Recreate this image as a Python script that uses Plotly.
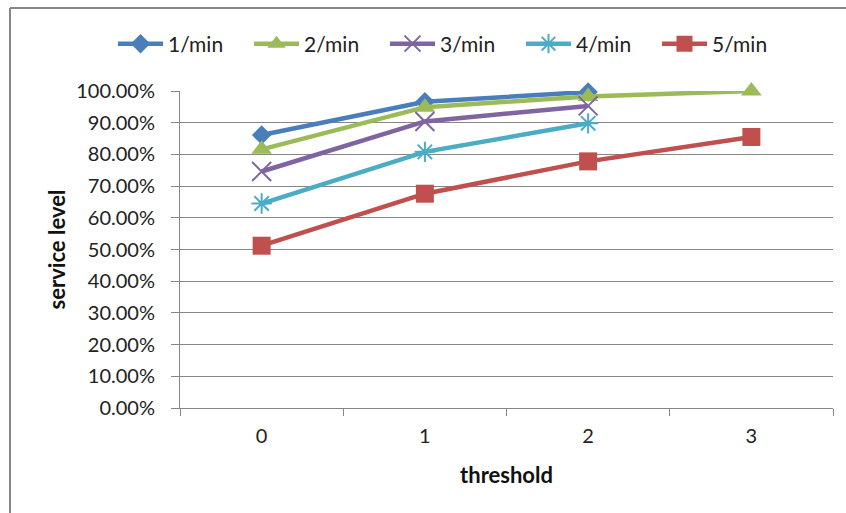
import plotly.graph_objects as go

# Threshold categories on the x axis
thresholds = ["0", "1", "2", "3"]

# Service level for each arrival rate (None where no value exists)
rate_1 = [0.861, 0.966, 0.997, None]
rate_2 = [0.816, 0.949, 0.983, 1.000]
rate_3 = [0.746, 0.904, 0.953, None]
rate_4 = [0.645, 0.808, 0.898, None]
rate_5 = [0.512, 0.676, 0.778, 0.855]

series_names = ["1/min", "2/min", "3/min", "4/min", "5/min"]
series_values = [rate_1, rate_2, rate_3, rate_4, rate_5]
series_colors = ["#4A7EBB", "#9BBB59", "#8064A2", "#4BACC6", "#C0504D"]
series_symbols = ["diamond", "triangle-up", "x-thin-open", "asterisk-open", "square"]
series_sizes = [15, 18, 19, 17, 18]

y_ticks = [i / 10 for i in range(11)]

FONT = "Lato"
GRID = "#868686"
TEXT = "#222222"

# Plot-area geometry in pixels, used to place the legend and frame
L, R, T, B = 180, 13, 91, 105
PW, PH = 846 - L - R, 513 - T - B

fig = go.Figure()
for name, vals, color, sym, size in zip(series_names, series_values,
                                         series_colors, series_symbols, series_sizes):
    thin = sym.endswith("-open")
    fig.add_trace(go.Scatter(
        x=thresholds, y=vals, name=name, mode="lines+markers",
        line=dict(color=color, width=4.5),
        marker=dict(symbol=sym, size=size, color=color,
                    line=dict(color=color, width=2 if thin else 0)),
        connectgaps=False, cliponaxis=False,
    ))

fig.update_layout(
    width=846, height=513,
    margin=dict(l=L, r=R, t=T, b=B, autoexpand=False),
    paper_bgcolor="white", plot_bgcolor="white",
    font=dict(family=FONT, size=20, color=TEXT),
    showlegend=True,
    legend=dict(
        orientation="h", xref="paper", yref="paper",
        x=(113 - L) / PW, y=(513 - B - 44) / PH, xanchor="left", yanchor="middle",
        font=dict(family=FONT, size=21, color=TEXT),
        itemwidth=45, entrywidth=76, entrywidthmode="pixels",
        bgcolor="rgba(0,0,0,0)", traceorder="normal",
    ),
    xaxis=dict(
        type="category", categoryorder="array", categoryarray=thresholds,
        range=[-0.5, 3.5], tickson="boundaries",
        showgrid=False, showline=True, linecolor=GRID, linewidth=1,
        ticks="outside", ticklen=7, tickcolor=GRID, tickwidth=1,
        ticklabelstandoff=10,
        tickfont=dict(family=FONT, size=20, color=TEXT),
        title=dict(text="<b>threshold</b>", standoff=21,
                   font=dict(family=FONT, size=22, color="#111111")),
        zeroline=False,
    ),
    yaxis=dict(
        range=[0, 1], tickvals=y_ticks, tickformat=".2%",
        showgrid=True, gridcolor=GRID, gridwidth=1,
        showline=True, linecolor=GRID, linewidth=1,
        ticks="outside", ticklen=8, tickcolor=GRID, tickwidth=1,
        ticklabelstandoff=12,
        tickfont=dict(family=FONT, size=20, color=TEXT),
        title=dict(text="<b>service level</b>", standoff=4,
                   font=dict(family=FONT, size=22, color="#111111")),
        zeroline=False,
    ),
)

# Chart-area frame along the left and top edges
frame_x = (10 - L) / PW
frame_y = (513 - B - 8) / PH
fig.add_shape(type="line", xref="paper", yref="paper",
              x0=frame_x, x1=frame_x, y0=-1, y1=frame_y,
              line=dict(color="#878787", width=2))
fig.add_shape(type="line", xref="paper", yref="paper",
              x0=frame_x, x1=2, y0=frame_y, y1=frame_y,
              line=dict(color="#878787", width=2))

fig.write_html("out.html")
